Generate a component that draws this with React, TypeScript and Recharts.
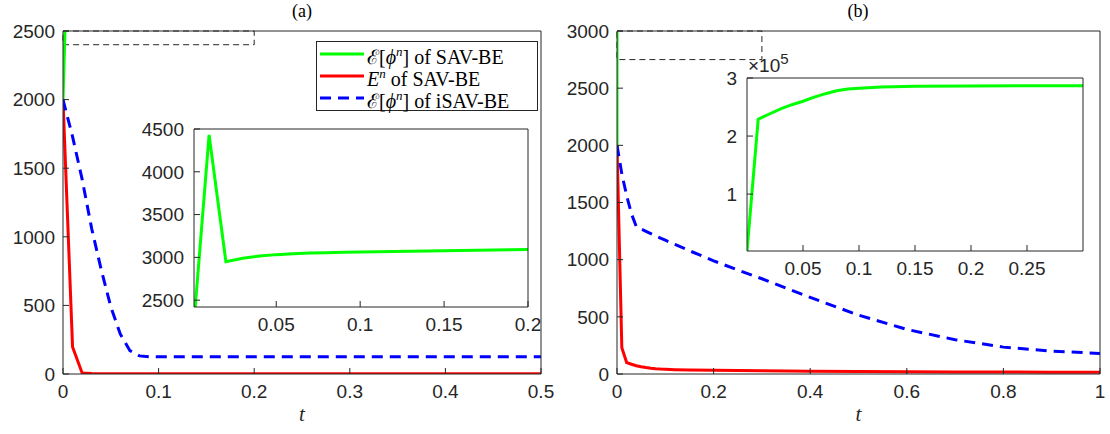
import React from "react";
import { CartesianGrid, Legend, Line, LineChart, ReferenceArea, XAxis, YAxis } from "recharts";

// panel (a), t in [0, 0.5]
const timeA = [0, 0.01, 0.02, 0.03, 0.04, 0.05, 0.06, 0.07, 0.08, 0.09, 0.1, 0.12, 0.15, 0.2, 0.3, 0.4, 0.5];
const origEnergyA = [2000, 4430, 2950, 2990, 3015, 3032, 3042, 3050, 3055, 3059, 3062, 3068, 3076, 3092, 3098, 3100, 3102];
const savEnergyA = [2000, 197, 8, 3, 2, 1, 1, 1, 1, 1, 1, 1, 1, 1, 1, 1, 1];
const isavEnergyA = [2000, 1730, 1420, 1060, 760, 490, 290, 170, 132, 126, 125, 125, 125, 125, 125, 125, 125];

// panel (b), t in [0, 1]
const timeB = [0, 0.01, 0.02, 0.03, 0.04, 0.05, 0.06, 0.07, 0.08, 0.09, 0.1, 0.12, 0.15, 0.2, 0.25, 0.3, 0.4, 0.5, 0.6, 0.7, 0.8, 0.9, 1];
const origEnergyB = [2000, 229000, 238000, 247000, 254000, 260000, 267000, 273000, 278000, 281000, 282500, 284500, 285800, 286300, 286500, 286600, 286700, 286800, 286800, 286900, 286900, 287000, 287000];
const savEnergyB = [2000, 230, 100, 85, 72, 63, 56, 50, 46, 43, 41, 38, 35, 32, 30, 28, 25, 22, 20, 18, 17, 16, 15];
const isavEnergyB = [2000, 1750, 1560, 1400, 1290, 1268, 1248, 1228, 1208, 1189, 1170, 1133, 1078, 990, 910, 833, 670, 515, 390, 300, 235, 200, 180];

const xTicksA = [0, 0.1, 0.2, 0.3, 0.4, 0.5];
const yTicksA = [0, 500, 1000, 1500, 2000, 2500];
const xTicksB = [0, 0.2, 0.4, 0.6, 0.8, 1];
const yTicksB = [0, 500, 1000, 1500, 2000, 2500, 3000];
const insetXTicksA = [0.05, 0.1, 0.15, 0.2];
const insetYTicksA = [2500, 3000, 3500, 4000, 4500];
const insetXTicksB = [0.05, 0.1, 0.15, 0.2, 0.25];
const insetYTicksB = [100000, 200000, 300000];

// zoom windows marked with dashed boxes
const zoomBoxA = { t: [0, 0.2], e: [2400, 2500] };
const zoomBoxB = { t: [0, 0.3], e: [2750, 3000] };

const dataA = timeA.map((t, i) => ({ t, orig: origEnergyA[i], sav: savEnergyA[i], isav: isavEnergyA[i] }));
const dataB = timeB.map((t, i) => ({ t, orig: origEnergyB[i], sav: savEnergyB[i], isav: isavEnergyB[i] }));

const INK = "#262626";
const SANS = "'Liberation Sans', Arial, Helvetica, sans-serif";
const SERIF = "'Liberation Serif', 'DejaVu Serif', serif";
const TICK = 6;
const tickStyle = { fill: INK, fontSize: 19, fontFamily: SANS };

const series = [
  { key: "orig", color: "#00ff00", dash: undefined as string | undefined },
  { key: "sav", color: "#ff0000", dash: undefined as string | undefined },
  { key: "isav", color: "#0000ff", dash: "11 7" },
];

function legendLabel(key: string) {
  if (key === "sav") {
    return (
      <>
        <i>E</i>
        <sup style={{ fontSize: 13 }}><i>n</i></sup> of SAV-BE
      </>
    );
  }
  return (
    <>
      ℰ[<i>ϕ</i>
      <sup style={{ fontSize: 13 }}><i>n</i></sup>] of {key === "orig" ? "SAV-BE" : "iSAV-BE"}
    </>
  );
}

function LegendBox() {
  return (
    <div
      style={{
        border: `1px solid ${INK}`,
        background: "#fff",
        padding: "1px 3px",
        boxSizing: "border-box",
        width: 222,
        fontFamily: SERIF,
        fontSize: 20,
        color: "#000",
      }}
    >
      {series.map((s) => (
        <div key={s.key} style={{ display: "flex", alignItems: "center", height: 22, lineHeight: "22px" }}>
          <svg width={44} height={10} style={{ flex: "none" }}>
            <line x1={0} x2={44} y1={5} y2={5} stroke={s.color} strokeWidth={3} strokeDasharray={s.dash} />
          </svg>
          <span style={{ marginLeft: 3, whiteSpace: "nowrap" }}>{legendLabel(s.key)}</span>
        </div>
      ))}
    </div>
  );
}

// mirrored top/right axes (1px thick, a 0px axis is not drawn) give the box with inward ticks
function boxAxes(xDomain: number[], xTicks: number[], yDomain: number[], yTicks: number[]) {
  return [
    <XAxis
      key="top"
      xAxisId="top"
      orientation="top"
      type="number"
      domain={xDomain}
      ticks={xTicks}
      interval={0}
      allowDataOverflow
      tick={false}
      tickSize={-TICK}
      height={1}
      stroke={INK}
    />,
    <YAxis
      key="right"
      yAxisId="right"
      orientation="right"
      type="number"
      domain={yDomain}
      ticks={yTicks}
      interval={0}
      allowDataOverflow
      tick={false}
      tickSize={-TICK}
      width={1}
      stroke={INK}
    />,
  ];
}

function seriesLines() {
  return series.map((s) => (
    <Line
      key={s.key}
      type="linear"
      dataKey={s.key}
      stroke={s.color}
      strokeWidth={3}
      strokeDasharray={s.dash}
      dot={false}
      activeDot={false}
      isAnimationActive={false}
    />
  ));
}

function MainPanel({
  data,
  width,
  yWidth,
  right,
  xDomain,
  xTicks,
  yDomain,
  yTicks,
  box,
  legend,
}: {
  data: any[];
  width: number;
  yWidth: number;
  right: number;
  xDomain: number[];
  xTicks: number[];
  yDomain: number[];
  yTicks: number[];
  box: { t: number[]; e: number[] };
  legend?: boolean;
}) {
  return (
    <LineChart width={width} height={434} data={data} margin={{ top: 30, right: right - 1, bottom: 0, left: 0 }}>
      <XAxis
        dataKey="t"
        type="number"
        domain={xDomain}
        ticks={xTicks}
        interval={0}
        allowDataOverflow
        tickSize={-TICK}
        tickMargin={17}
        height={60}
        stroke={INK}
        tick={tickStyle}
        label={{
          value: "t",
          position: "insideBottom",
          offset: 13,
          style: { fill: INK, fontSize: 21, fontStyle: "italic", fontFamily: SERIF },
        }}
      />
      <YAxis
        type="number"
        domain={yDomain}
        ticks={yTicks}
        interval={0}
        allowDataOverflow
        tickSize={-TICK}
        tickMargin={14}
        width={yWidth}
        stroke={INK}
        tick={tickStyle}
      />
      {boxAxes(xDomain, xTicks, yDomain, yTicks)}
      <ReferenceArea
        x1={box.t[0]}
        x2={box.t[1]}
        y1={box.e[0]}
        y2={box.e[1]}
        fill="none"
        fillOpacity={0}
        stroke={INK}
        strokeWidth={1}
        strokeDasharray="6 4"
        ifOverflow="visible"
      />
      {seriesLines()}
      {legend && (
        <Legend
          layout="vertical"
          align="center"
          verticalAlign="middle"
          wrapperStyle={{ left: 316, top: 41, width: 222 }}
          content={() => <LegendBox />}
        />
      )}
    </LineChart>
  );
}

function InsetA() {
  const xd = [0.001, 0.2];
  const yd = [2420, 4500];
  return (
    <LineChart width={414} height={228} data={dataA} margin={{ top: 9, right: 19, bottom: 0, left: 0 }}>
      <CartesianGrid horizontal={false} vertical={false} fill="#fff" />
      <XAxis
        dataKey="t"
        type="number"
        domain={xd}
        ticks={insetXTicksA}
        interval={0}
        allowDataOverflow
        tickSize={-TICK}
        tickMargin={17}
        height={40}
        stroke={INK}
        tick={tickStyle}
      />
      <YAxis
        type="number"
        domain={yd}
        ticks={insetYTicksA}
        interval={0}
        allowDataOverflow
        tickSize={-TICK}
        tickMargin={16}
        width={60}
        stroke={INK}
        tick={tickStyle}
      />
      {boxAxes(xd, insetXTicksA, yd, insetYTicksA)}
      <Line type="linear" dataKey="orig" stroke="#00ff00" strokeWidth={3} dot={false} activeDot={false} isAnimationActive={false} />
    </LineChart>
  );
}

function InsetB() {
  const xd = [0, 0.3];
  const yd = [2000, 300000];
  return (
    <LineChart width={396} height={243} data={dataB} margin={{ top: 29, right: 19, bottom: 0, left: 0 }}>
      <CartesianGrid horizontal={false} vertical={false} fill="#fff" />
      <XAxis
        dataKey="t"
        type="number"
        domain={xd}
        ticks={insetXTicksB}
        interval={0}
        allowDataOverflow
        tickSize={-TICK}
        tickMargin={17}
        height={40}
        stroke={INK}
        tick={tickStyle}
      />
      <YAxis
        type="number"
        domain={yd}
        ticks={insetYTicksB}
        interval={0}
        allowDataOverflow
        tickSize={-TICK}
        tickMargin={16}
        width={40}
        stroke={INK}
        tick={tickStyle}
        tickFormatter={(v: number) => String(v / 100000)}
        label={{
          content: (p: any) => {
            const vb = p.viewBox || {};
            return (
              <text x={vb.x + vb.width + 1} y={vb.y - 6} fill={INK} fontSize={19} fontFamily={SANS}>
                ×10
                <tspan dy={-8} fontSize={15}>5</tspan>
              </text>
            );
          },
        }}
      />
      {boxAxes(xd, insetXTicksB, yd, insetYTicksB)}
      <Line type="linear" dataKey="orig" stroke="#00ff00" strokeWidth={3} dot={false} activeDot={false} isAnimationActive={false} />
    </LineChart>
  );
}

const titleStyle: React.CSSProperties = {
  position: "absolute",
  top: 1,
  fontFamily: SERIF,
  fontSize: 18,
  color: "#000",
  transform: "translateX(-50%)",
};

export default function App() {
  return (
    <div style={{ position: "absolute", left: 0, top: 0, width: 1110, height: 434, background: "#fff", overflow: "hidden" }}>
      <div style={{ position: "absolute", left: 0, top: 0 }}>
        <MainPanel
          data={dataA}
          width={560}
          yWidth={63}
          right={19}
          xDomain={[0, 0.5]}
          xTicks={xTicksA}
          yDomain={[0, 2500]}
          yTicks={yTicksA}
          box={zoomBoxA}
          legend
        />
      </div>
      <div style={{ position: "absolute", left: 560, top: 0 }}>
        <MainPanel
          data={dataB}
          width={550}
          yWidth={57}
          right={10}
          xDomain={[0, 1]}
          xTicks={xTicksB}
          yDomain={[0, 3000]}
          yTicks={yTicksB}
          box={zoomBoxB}
        />
      </div>
      <div style={{ position: "absolute", left: 134, top: 119 }}>
        <InsetA />
      </div>
      <div style={{ position: "absolute", left: 707, top: 48 }}>
        <InsetB />
      </div>
      <div style={{ ...titleStyle, left: 302 }}>(a)</div>
      <div style={{ ...titleStyle, left: 858 }}>(b)</div>
    </div>
  );
}
